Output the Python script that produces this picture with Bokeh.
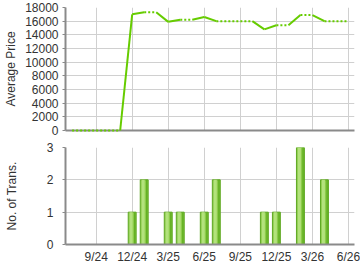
from bokeh.plotting import figure
from bokeh.layouts import column
from bokeh.models import FixedTicker, Range1d, ColumnDataSource
from bokeh.embed import file_html
from bokeh.resources import INLINE

# ---- data ----
months = ["2024-07", "2024-08", "2024-09", "2024-10", "2024-11", "2024-12",
          "2025-01", "2025-02", "2025-03", "2025-04", "2025-05", "2025-06",
          "2025-07", "2025-08", "2025-09", "2025-10", "2025-11", "2025-12",
          "2026-01", "2026-02", "2026-03", "2026-04", "2026-05", "2026-06"]
trans_months = ["2024-12", "2025-01", "2025-03", "2025-04", "2025-06",
                "2025-07", "2025-11", "2025-12", "2026-02", "2026-04"]
trans_counts = [1, 2, 1, 1, 1, 2, 1, 1, 3, 2]
avg_price = [17000, 17300, 15900, 16200, 16600, 16000, 14800, 15400, 16900, 16000]
tick_months = ["2024-09", "2024-12", "2025-03", "2025-06", "2025-09",
               "2025-12", "2026-03", "2026-06"]
tick_labels = ["9/24", "12/24", "3/25", "6/25", "9/25", "12/25", "3/26", "6/26"]

idx = {m: i for i, m in enumerate(months)}
tick_pos = [idx[m] for m in tick_months]
price_by_month = dict(zip(trans_months, avg_price))

# carry forward the last known price; solid into months with data, dotted otherwise
vals = []
last = 0
for m in months:
    if m in price_by_month:
        last = price_by_month[m]
    vals.append(last)
solid = dict(x0=[], y0=[], x1=[], y1=[])
dotted = dict(x0=[], y0=[], x1=[], y1=[])
for i in range(1, len(months)):
    d = solid if months[i] in price_by_month else dotted
    d["x0"].append(i - 1); d["y0"].append(vals[i - 1])
    d["x1"].append(i); d["y1"].append(vals[i])

FONT = "Liberation Sans"
GRID = "#d0d0d0"
AXIS = "#8a8a8a"
TXT = "#333333"
LINE = "#66cc00"
xr = Range1d(-0.55, 23.5)


def style(p):
    p.outline_line_color = None
    p.background_fill_color = "white"
    p.border_fill_color = "white"
    p.xgrid.ticker = FixedTicker(ticks=tick_pos)
    p.xgrid.grid_line_color = GRID
    p.ygrid.grid_line_color = GRID
    for ax in (p.xaxis, p.yaxis):
        ax.axis_line_color = AXIS
        ax.axis_line_width = 2
        ax.major_tick_in = 0
        ax.minor_tick_line_color = None
        ax.major_label_text_font = FONT
        ax.major_label_text_font_size = "12px"
        ax.major_label_text_color = TXT
        ax.axis_label_text_font = FONT
        ax.axis_label_text_font_size = "12px"
        ax.axis_label_text_font_style = "normal"
        ax.axis_label_text_color = TXT
    p.xaxis.major_tick_out = 0
    p.yaxis.major_tick_out = 3
    p.yaxis.major_tick_line_color = AXIS


# ---- top: average price ----
p1 = figure(width=360, height=139, x_range=xr, y_range=Range1d(0, 18000),
            output_backend="svg", toolbar_location=None,
            min_border_left=65, min_border_right=6, min_border_top=7, min_border_bottom=9)
style(p1)
p1.xaxis.ticker = FixedTicker(ticks=[])
p1.xaxis.major_label_standoff = 0
p1.yaxis.ticker = FixedTicker(ticks=list(range(0, 18001, 2000)))
p1.yaxis.major_label_standoff = 4
p1.yaxis.axis_label = "Average Price"
p1.yaxis.axis_label_standoff = 4
p1.segment("x0", "y0", "x1", "y1", source=ColumnDataSource(solid),
           line_color=LINE, line_width=2, level="overlay")
p1.segment("x0", "y0", "x1", "y1", source=ColumnDataSource(dotted),
           line_color=LINE, line_width=2, line_dash="2 2", level="overlay")

# ---- bottom: number of transactions ----
p2 = figure(width=360, height=131, x_range=xr, y_range=Range1d(0, 3),
            output_backend="svg", toolbar_location=None,
            min_border_left=65, min_border_right=6, min_border_top=8, min_border_bottom=26)
style(p2)
p2.xaxis.ticker = FixedTicker(ticks=tick_pos)
p2.xaxis.major_label_overrides = {t: l for t, l in zip(tick_pos, tick_labels)}
p2.yaxis.ticker = FixedTicker(ticks=[0, 1, 2, 3])
p2.yaxis.major_label_standoff = 9
p2.yaxis.axis_label = "No. of Trans."
p2.yaxis.axis_label_standoff = 25
p2.xaxis.major_label_standoff = 5

bx = [idx[m] for m in trans_months]
src = ColumnDataSource(dict(x=bx, top=trans_counts,
                            xl=[x - 0.09 for x in bx], xr=[x + 0.22 for x in bx]))
p2.vbar(x="x", top="top", width=0.66, bottom=0, source=src,
        fill_color="#8ccb4a", line_color="#5fa823", line_width=1)
p2.vbar(x="xl", top="top", width=0.26, bottom=0, source=src,
        fill_color="#b3e27c", line_color=None)
p2.vbar(x="xr", top="top", width=0.12, bottom=0, source=src,
        fill_color="#5fae1f", line_color=None)

layout = column(p1, p2, spacing=0)
open("out.html", "w").write(file_html(layout, INLINE))
